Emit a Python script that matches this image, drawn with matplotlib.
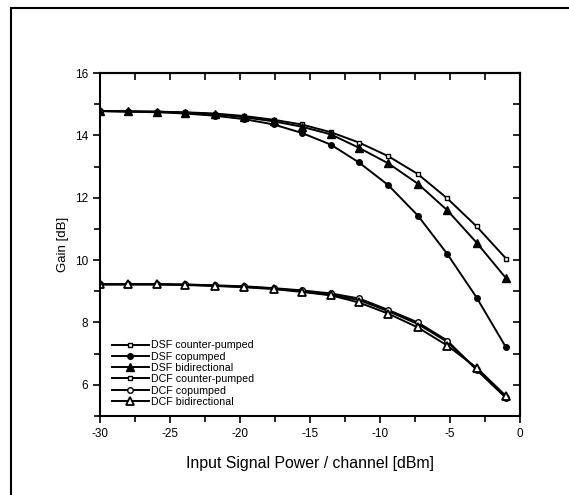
import matplotlib
matplotlib.use('Agg')
import matplotlib.pyplot as plt
from matplotlib.patches import Rectangle
from matplotlib.ticker import MultipleLocator

plt.rcParams['font.family'] = ['Liberation Sans', 'DejaVu Sans']
plt.rcParams['axes.unicode_minus'] = False

# input power per channel [dBm]
x = [-30, -28, -25.9, -23.9, -21.8, -19.7, -17.6, -15.6, -13.5, -11.5, -9.4, -7.3, -5.2, -3.1, -1.0]

# gain [dB]
dsf_counter = [14.78, 14.77, 14.76, 14.74, 14.70, 14.62, 14.50, 14.35, 14.10, 13.77, 13.33, 12.76, 11.98, 11.08, 10.05]
dsf_co = [14.78, 14.76, 14.74, 14.70, 14.63, 14.52, 14.35, 14.08, 13.70, 13.13, 12.40, 11.43, 10.20, 8.80, 7.20]
dsf_bi = [14.78, 14.77, 14.76, 14.73, 14.68, 14.58, 14.45, 14.28, 14.03, 13.60, 13.10, 12.45, 11.60, 10.56, 9.42]
dcf_counter = [9.22, 9.22, 9.22, 9.21, 9.18, 9.14, 9.09, 9.00, 8.88, 8.72, 8.36, 7.95, 7.38, 6.50, 5.60]
dcf_co = [9.23, 9.23, 9.23, 9.22, 9.19, 9.16, 9.10, 9.03, 8.93, 8.77, 8.40, 8.00, 7.42, 6.48, 5.58]
dcf_bi = [9.22, 9.22, 9.22, 9.20, 9.17, 9.13, 9.07, 8.98, 8.87, 8.64, 8.28, 7.84, 7.26, 6.55, 5.64]

fig = plt.figure(figsize=(5.69, 4.95), dpi=100)

# outer frame (clipped at right/bottom like the original)
fig.patches.append(Rectangle((11 / 569, -0.05), 1.0, 1.05 - 8 / 495,
                             transform=fig.transFigure, fill=False,
                             edgecolor='black', linewidth=1.5))

ax = fig.add_axes([100 / 569, 1 - 416 / 495, 420 / 569, 343 / 495])

lw = 1.4
ax.plot(x, dsf_counter, '-', color='black', lw=lw, marker='s', ms=3.5,
        mfc='white', mec='black', mew=1.0, label='DSF counter-pumped')
ax.plot(x, dsf_co, '-', color='black', lw=lw, marker='o', ms=4,
        mfc='black', mec='black', label='DSF copumped')
ax.plot(x, dsf_bi, '-', color='black', lw=lw, marker='^', ms=5.5,
        mfc='black', mec='black', label='DSF bidirectional')
ax.plot(x, dcf_counter, '-', color='black', lw=lw, marker='s', ms=3.5,
        mfc='white', mec='black', mew=1.0, label='DCF counter-pumped')
ax.plot(x, dcf_co, '-', color='black', lw=lw, marker='o', ms=4,
        mfc='white', mec='black', mew=1.0, label='DCF copumped')
ax.plot(x, dcf_bi, '-', color='black', lw=lw, marker='^', ms=5.5,
        mfc='white', mec='black', mew=1.3, label='DCF bidirectional')

ax.set_xlim(-30, 0)
ax.set_ylim(5, 16)
ax.xaxis.set_major_locator(MultipleLocator(5))
ax.xaxis.set_minor_locator(MultipleLocator(2.5))
ax.yaxis.set_major_locator(MultipleLocator(2))
ax.yaxis.set_minor_locator(MultipleLocator(1))
ax.set_yticks([6, 8, 10, 12, 14, 16])

for s in ax.spines.values():
    s.set_linewidth(1.5)
ax.tick_params(which='both', direction='out', width=1.2, labelsize=8.5,
               top=False, right=False)
ax.tick_params(which='major', length=5)
ax.tick_params(which='minor', length=4)

# mirrored ticks pointing inward on top and right
top = ax.secondary_xaxis('top')
top.xaxis.set_major_locator(MultipleLocator(5))
top.xaxis.set_minor_locator(MultipleLocator(2.5))
top.tick_params(which='both', direction='in', length=5, width=1.2, labeltop=False)
top.spines['top'].set_linewidth(1.5)
right = ax.secondary_yaxis('right')
right.yaxis.set_major_locator(MultipleLocator(2))
right.yaxis.set_minor_locator(MultipleLocator(1))
right.tick_params(which='both', direction='in', length=5, width=1.2, labelright=False)
right.spines['right'].set_linewidth(1.5)

ax.set_xlabel('Input Signal Power / channel [dBm]', fontsize=11.4, labelpad=12)
ax.set_ylabel('Gain [dB]', fontsize=9.5, labelpad=4)

ax.legend(loc='lower left', bbox_to_anchor=(0.01, 0.005), frameon=False,
          fontsize=7.7, handlelength=3.5, handletextpad=0.15, labelspacing=0.12,
          borderaxespad=0.3)

fig.savefig('out.png', dpi=100)
